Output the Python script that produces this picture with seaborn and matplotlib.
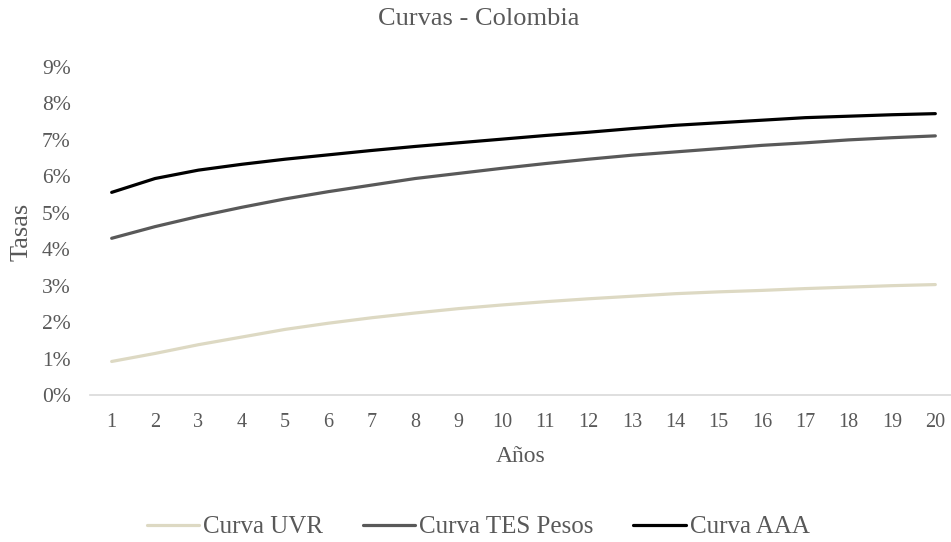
import matplotlib
matplotlib.use("Agg")
import matplotlib.pyplot as plt
from matplotlib.ticker import PercentFormatter
import pandas as pd
import seaborn as sns

# Plazos en años
anos = list(range(1, 21))

# Tasas por curva (en fracción)
curva_uvr = [0.0092, 0.0114, 0.0138, 0.0159, 0.0180, 0.0197, 0.0212, 0.0225, 0.0237, 0.0247,
             0.0256, 0.0264, 0.0271, 0.0278, 0.0283, 0.0287, 0.0292, 0.0296, 0.0300, 0.0303]
curva_tes = [0.0430, 0.0462, 0.0490, 0.0515, 0.0538, 0.0558, 0.0576, 0.0594, 0.0608, 0.0622,
             0.0635, 0.0647, 0.0658, 0.0667, 0.0676, 0.0685, 0.0692, 0.0700, 0.0706, 0.0711]
curva_aaa = [0.0556, 0.0594, 0.0617, 0.0633, 0.0647, 0.0659, 0.0671, 0.0682, 0.0692, 0.0702,
             0.0712, 0.0721, 0.0731, 0.0740, 0.0747, 0.0754, 0.0761, 0.0765, 0.0769, 0.0772]

nombres = ["Curva UVR", "Curva TES Pesos", "Curva AAA"]
colores = ["#DDD9C3", "#595959", "#000000"]
texto = "#595959"

df = pd.concat([
    pd.DataFrame({"Años": anos, "Tasa": vals, "Curva": nom})
    for nom, vals in zip(nombres, [curva_uvr, curva_tes, curva_aaa])
], ignore_index=True)

sns.set_theme(style="white")
plt.rcParams["font.family"] = ["Liberation Serif", "DejaVu Serif"]

W, H = 951, 542
fig = plt.figure(figsize=(W / 100, H / 100), dpi=100)
# el área de trazado se extiende un poco más allá del borde derecho
ax = fig.add_axes([90 / W, 1 - 395 / H, 867 / W, 328 / H])

sns.lineplot(data=df, x="Años", y="Tasa", hue="Curva", hue_order=nombres,
             palette=colores, linewidth=2.3, ax=ax, legend=False)

ax.set_xlim(0.5, 20.5)
ax.set_ylim(0, 0.09)
ax.set_xticks(anos)
ax.set_yticks([i / 100 for i in range(10)])
ax.yaxis.set_major_formatter(PercentFormatter(1.0, decimals=0))
ax.tick_params(axis="both", length=0, labelcolor=texto)
ax.tick_params(axis="x", pad=13, labelsize=14.5)
ax.tick_params(axis="y", pad=14, labelsize=15.5)

for lado in ["top", "right", "left"]:
    ax.spines[lado].set_visible(False)
ax.spines["bottom"].set_color("#D9D9D9")
ax.spines["bottom"].set_linewidth(1.2)

ax.set_xlabel("Años", fontsize=17, color=texto)
ax.set_ylabel("Tasas", fontsize=19, color=texto)
ax.xaxis.set_label_coords((521 - 90) / 867, -(446 - 395) / 328)
ax.yaxis.set_label_coords(-(90 - 33) / 867, (395 - 232) / 328)

fig.text(479 / W, 1 - 19 / H, "Curvas - Colombia", ha="center", va="center",
         fontsize=19, color=texto)

handles = [plt.Line2D([], [], color=c, linewidth=2.3) for c in colores]
fig.legend(handles, nombres, loc="center", bbox_to_anchor=(478 / W, 1 - 527 / H),
           ncol=3, frameon=False, fontsize=18, labelcolor=texto,
           handlelength=2.1, handletextpad=0.15, columnspacing=1.6)

fig.savefig("out.png", dpi=100)
